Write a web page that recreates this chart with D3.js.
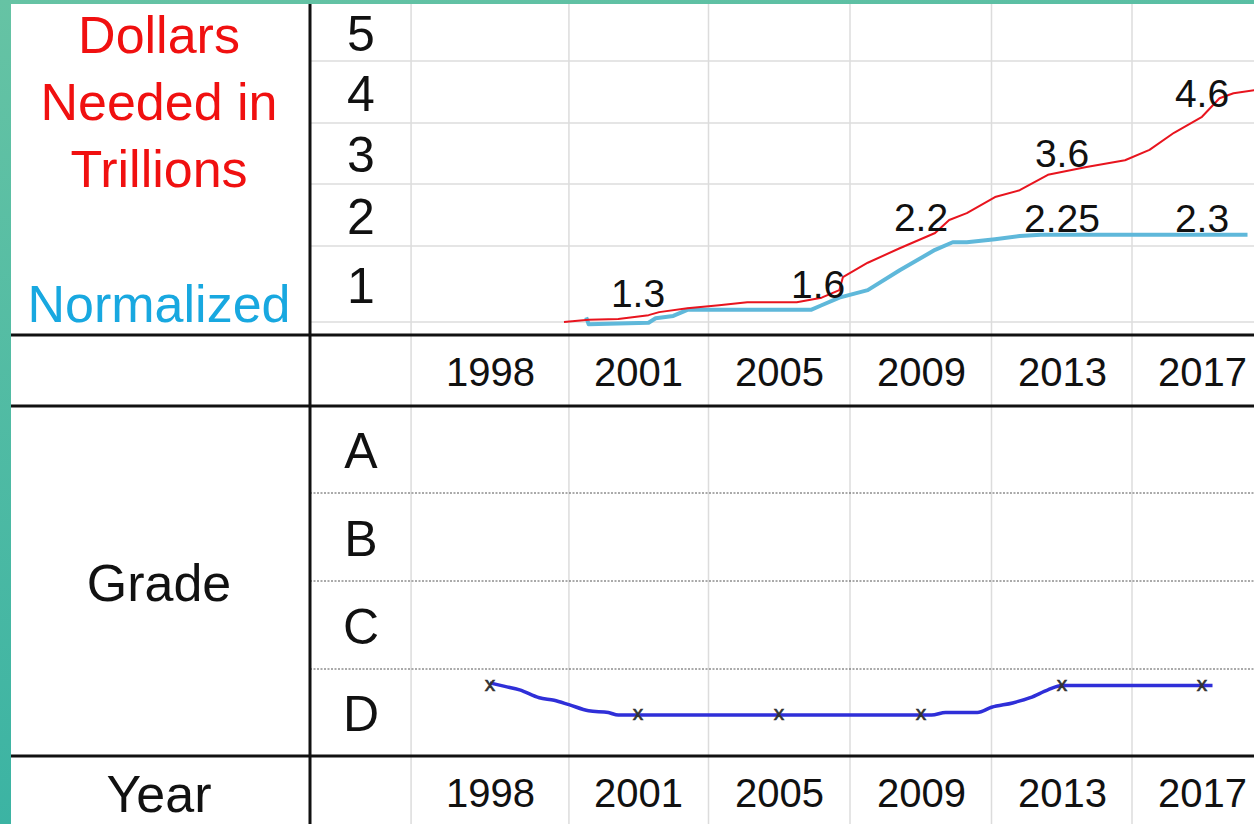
<!DOCTYPE html>
<html><head><meta charset="utf-8">
<script src="https://cdn.jsdelivr.net/npm/d3@7"></script>
<style>html,body{margin:0;padding:0;background:#fff;overflow:hidden;} svg{display:block;}</style>
</head><body>
<script>
// ---------------- DATA ----------------
const years = [1998, 2001, 2005, 2009, 2013, 2017];
const dollarTicks = [1, 2, 3, 4, 5];
const gradeScores = [1, 2, 3, 4];
const gradeLetters = ["D", "C", "B", "A"];
// column boundaries (in years) of the table grid
const gridYears = [1996.4, 1999.6, 2003, 2007, 2011, 2015];
// row boundaries (in chart units)
const dollarRowBounds = [0.5, 1.5, 2.5, 3.5, 4.5];
const gradeRowBounds = [1.5, 2.5, 3.5];

// red trace: dollars needed (hand-drawn, chart units)
const redYears  = [1999.5, 2000.0, 2000.6, 2001.3, 2001.6, 2002.4, 2003.3, 2004.1, 2005.5, 2006.2, 2006.5, 2006.7, 2006.8, 2007.5, 2008.4, 2009.4, 2009.8, 2010.3, 2011.1, 2011.8, 2012.6, 2013.7, 2014.8, 2015.5, 2016.2, 2017.0, 2017.5, 2017.9, 2018.5];
const redValues = [0.50, 0.53, 0.54, 0.59, 0.63, 0.68, 0.72, 0.76, 0.76, 0.82, 0.88, 0.92, 1.09, 1.28, 1.47, 1.71, 1.92, 2.03, 2.29, 2.40, 2.65, 2.78, 2.89, 3.06, 3.34, 3.60, 3.90, 3.98, 4.03];

// light blue trace: normalized
const blueYears  = [1999.95, 2000.0, 2001.3, 2001.5, 2002.0, 2002.4, 2005.9, 2006.2, 2006.7, 2007.5, 2008.4, 2009.4, 2009.9, 2010.3, 2011.1, 2011.8, 2012.4, 2018.3];
const blueValues = [0.56, 0.47, 0.49, 0.55, 0.58, 0.66, 0.66, 0.72, 0.82, 0.92, 1.18, 1.45, 1.56, 1.56, 1.61, 1.66, 1.68, 1.68];

// value annotations (text, year, chart-unit level of the text baseline)
const labelTexts  = ["1.3", "1.6", "2.2", "3.6", "4.6", "2.25", "2.3"];
const labelYears  = [2001, 2006.1, 2009, 2013, 2017, 2013, 2017];
const labelLevels = [0.70, 0.81, 1.74, 2.78, 3.76, 1.73, 1.73];

// grade trace
const gradeYears  = [1998.0, 1998.3, 1998.6, 1999.0, 1999.3, 1999.6, 2000.0, 2000.4, 2000.6, 2000.9, 2009.0, 2009.3, 2009.7, 2010.6, 2011.0, 2011.6, 2012.1, 2012.6, 2013.0, 2017.3];
const gradeValues = [1.34, 1.30, 1.26, 1.17, 1.14, 1.09, 1.02, 1.00, 0.97, 0.97, 0.97, 0.97, 1.00, 1.00, 1.06, 1.11, 1.17, 1.26, 1.31, 1.31];
const gradeMarkValues = [1.30, 0.97, 0.97, 0.97, 1.31, 1.31];

// ---------------- LAYOUT ----------------
const W = 1254, H = 824;
const FONT = "'Liberation Sans', Arial, Helvetica, sans-serif";
const L = 11, T = 4;          // inner white area origin
const divX = 310;             // thick vertical divider
const topLine = 335, midLine = 406, botLine = 756;

const x = d3.scaleLinear().domain(years).range([490, 638, 779, 921, 1062, 1202]);
const yD = d3.scaleLinear().domain([0.5, 1.5, 2.5, 3.5, 4.5, 5.5]).range([322, 246, 184, 123, 61, 4]);
const yG = d3.scaleLinear().domain([0.5, 1.5, 2.5, 3.5, 4.5]).range([756, 669, 581, 493, 406]);

const svg = d3.select("body").append("svg").attr("width", W).attr("height", H)
  .style("font-family", FONT);

const defs = svg.append("defs");
const grad = defs.append("linearGradient").attr("id", "teal")
  .attr("x1", "0").attr("y1", "0").attr("x2", "0.3").attr("y2", "1");
grad.append("stop").attr("offset", "0%").attr("stop-color", "#66c3a4");
grad.append("stop").attr("offset", "100%").attr("stop-color", "#38b2a3");

svg.append("rect").attr("width", W).attr("height", H).attr("fill", "url(#teal)");
svg.append("rect").attr("x", L).attr("y", T).attr("width", W - L).attr("height", H - T).attr("fill", "#fff");

// light grid: vertical column lines
svg.append("g").selectAll("line").data(gridYears).join("line")
  .attr("x1", d => x(d)).attr("x2", d => x(d))
  .attr("y1", T).attr("y2", H)
  .attr("stroke", "#dcdcdc").attr("stroke-width", 1.5);

// light grid: horizontal rows in top panel
svg.append("g").selectAll("line").data(dollarRowBounds).join("line")
  .attr("x1", divX).attr("x2", W)
  .attr("y1", d => yD(d)).attr("y2", d => yD(d))
  .attr("stroke", "#dcdcdc").attr("stroke-width", 1.5);

// dashed grade row separators
svg.append("g").selectAll("line").data(gradeRowBounds).join("line")
  .attr("x1", divX).attr("x2", W)
  .attr("y1", d => yG(d)).attr("y2", d => yG(d))
  .attr("stroke", "#555").attr("stroke-width", 1).attr("stroke-dasharray", "2,1.5");

// thick table lines
const thick = svg.append("g").attr("stroke", "#111").attr("stroke-width", 3);
[topLine, midLine, botLine].forEach(yy => {
  thick.append("line").attr("x1", L).attr("x2", W).attr("y1", yy).attr("y2", yy);
});
thick.append("line").attr("x1", divX).attr("x2", divX).attr("y1", T).attr("y2", H);

// ---------------- LINES ----------------
const zip = (xs, vs) => xs.map((d, i) => [d, vs[i]]);
const lineD = d3.line().x(d => x(d[0])).y(d => yD(d[1]));
const lineG = d3.line().x(d => x(d[0])).y(d => yG(d[1])).curve(d3.curveMonotoneX);

svg.append("path").datum(zip(blueYears, blueValues)).attr("d", lineD)
  .attr("fill", "none").attr("stroke", "#5fb8da").attr("stroke-width", 4).attr("stroke-linejoin", "round");
svg.append("path").datum(zip(redYears, redValues)).attr("d", lineD)
  .attr("fill", "none").attr("stroke", "#e8141e").attr("stroke-width", 2).attr("stroke-linejoin", "round");

svg.append("path").datum(zip(gradeYears, gradeValues)).attr("d", lineG)
  .attr("fill", "none").attr("stroke", "#2f2fd8").attr("stroke-width", 3.5).attr("stroke-linejoin", "round");

svg.append("g").selectAll("text").data(years).join("text")
  .attr("x", d => x(d)).attr("y", (d, i) => yG(gradeMarkValues[i]))
  .attr("dy", "0.24em").attr("text-anchor", "middle")
  .attr("font-size", 21).attr("fill", "#333").attr("stroke", "#333").attr("stroke-width", 0.6).text("x");

// ---------------- ANNOTATIONS ----------------
svg.append("g").selectAll("text").data(labelTexts).join("text")
  .attr("x", (d, i) => x(labelYears[i]))
  .attr("y", (d, i) => yD(labelLevels[i]))
  .attr("text-anchor", "middle").attr("font-size", 39).attr("fill", "#111")
  .text(d => d);

// ---------------- AXES ----------------
function styleAxis(g, size) {
  g.select(".domain").remove();
  g.selectAll("text").attr("font-size", size).attr("font-family", FONT).attr("fill", "#111");
}
svg.append("g").attr("transform", `translate(361,0)`)
  .call(d3.axisLeft(yD).tickValues(dollarTicks).tickSize(0).tickFormat(d3.format("d")))
  .call(g => { styleAxis(g, 50); g.selectAll("text").attr("x", 0).attr("dy", "0.36em").attr("text-anchor", "middle"); });

svg.append("g").attr("transform", `translate(361,0)`)
  .call(d3.axisLeft(yG).tickValues(gradeScores).tickSize(0).tickFormat(d => gradeLetters[gradeScores.indexOf(d)]))
  .call(g => { styleAxis(g, 50); g.selectAll("text").attr("x", 0).attr("dy", "0.36em").attr("text-anchor", "middle"); });

[372, 793].forEach(yy => {
  svg.append("g").attr("transform", `translate(0,${yy})`)
    .call(d3.axisBottom(x).tickValues(years).tickSize(0).tickFormat(d3.format("d")))
    .call(g => { styleAxis(g, 40); g.selectAll("text").attr("y", 0).attr("dy", "0.36em"); });
});

// ---------------- LEFT LABELS ----------------
const cx = 159;
const lab = svg.append("g").attr("text-anchor", "middle").attr("font-size", 52);
[["Dollars", 53], ["Needed in", 120], ["Trillions", 187]].forEach(([t, yy]) => {
  lab.append("text").attr("x", cx).attr("y", yy).attr("fill", "#f01010").text(t);
});
lab.append("text").attr("x", cx).attr("y", 322).attr("fill", "#18a8e0").text("Normalized");
lab.append("text").attr("x", cx).attr("y", 601).attr("fill", "#111").text("Grade");
lab.append("text").attr("x", cx).attr("y", 812).attr("fill", "#111").text("Year");
</script>
</body></html>
